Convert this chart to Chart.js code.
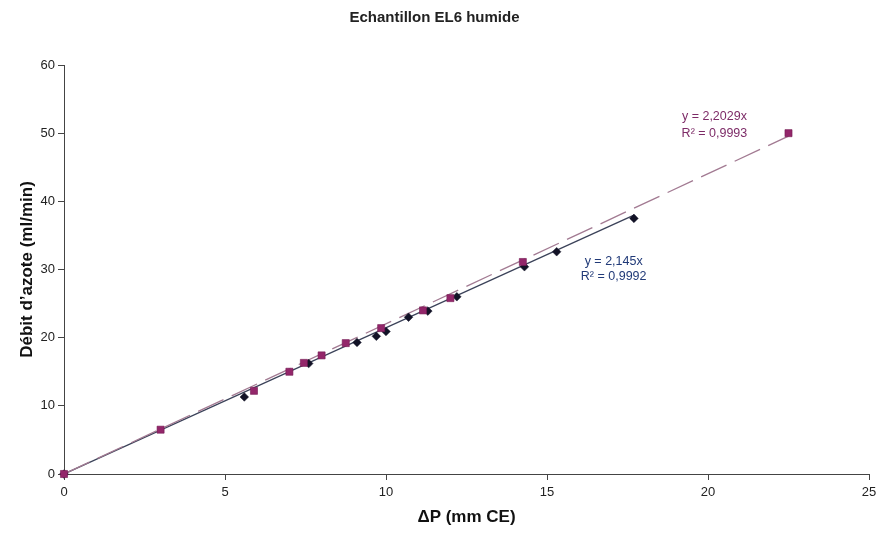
<!DOCTYPE html>
<html><head><meta charset="utf-8">
<script src="https://cdn.jsdelivr.net/npm/chart.js@4/dist/chart.umd.min.js"></script>
<style>html,body{margin:0;padding:0;background:#fff}#wrap{width:882px;height:541px}</style>
</head><body><div id="wrap"><canvas id="c" width="882" height="541"></canvas></div>
<script>
// ---- data ----
const titleText = 'Echantillon EL6 humide';
const xAxisTitle = 'ΔP (mm CE)';
const yAxisTitle = 'Débit d\u2019azote (ml/min)';
const xTicks = [0, 5, 10, 15, 20, 25];
const yTicks = [0, 10, 20, 30, 40, 50, 60];

// series A: black diamonds
const seriesAX = [0, 5.6, 7.6, 9.1, 9.7, 10.0, 10.7, 11.3, 12.2, 14.3, 15.3, 17.7];
const seriesAY = [0, 11.3, 16.2, 19.3, 20.2, 20.9, 23.0, 23.9, 26.0, 30.4, 32.6, 37.5];
// series B: magenta squares
const seriesBX = [0, 3.0, 5.9, 7.0, 7.45, 8.0, 8.75, 9.85, 11.15, 12.0, 14.25, 22.5];
const seriesBY = [0, 6.5, 12.2, 15.0, 16.3, 17.4, 19.2, 21.4, 24.0, 25.8, 31.1, 50.0];

// trendlines (through origin), as printed on the chart
const slopeA = 2.145, r2A = '0,9992';
const slopeB = 2.2029, r2B = '0,9993';

// ---- build ----
const ptsA = seriesAX.map((x, i) => ({x, y: seriesAY[i]}));
const ptsB = seriesBX.map((x, i) => ({x, y: seriesBY[i]}));
const maxA = Math.max(...seriesAX), maxB = Math.max(...seriesBX);
const trendA = [{x: 0, y: 0}, {x: maxA, y: slopeA * maxA}];
const trendB = [{x: 0, y: 0}, {x: maxB, y: slopeB * maxB}];
const fmt = v => String(v).replace('.', ',');

const FONT = '"Liberation Sans", Arial, sans-serif';

const annot = {
  id: 'annot',
  afterDatasetsDraw(chart) {
    const {ctx, scales: {x, y}} = chart;
    ctx.save();
    ctx.font = '12.5px ' + FONT;
    ctx.textAlign = 'center';
    ctx.textBaseline = 'middle';
    ctx.fillStyle = '#7d2b67';
    ctx.fillText('y = ' + fmt(slopeB) + 'x', x.getPixelForValue(20.2), y.getPixelForValue(52.5));
    ctx.fillText('R\u00B2 = ' + r2B, x.getPixelForValue(20.2), y.getPixelForValue(49.9));
    ctx.fillStyle = '#213a78';
    ctx.fillText('y = ' + fmt(slopeA) + 'x', x.getPixelForValue(17.07), y.getPixelForValue(31.1));
    ctx.fillText('R\u00B2 = ' + r2A, x.getPixelForValue(17.07), y.getPixelForValue(28.9));
    ctx.restore();
  }
};

new Chart(document.getElementById('c'), {
  type: 'scatter',
  data: {
    datasets: [
      {label: 'B', data: ptsB, pointStyle: 'rect', pointRadius: 5, pointHoverRadius: 5, clip: false,
       backgroundColor: '#93266a', borderColor: '#731a52', borderWidth: 0.6, order: 0},
      {label: 'A', data: ptsA, pointStyle: 'rectRot', pointRadius: 4.3, pointHoverRadius: 4.3, clip: false,
       backgroundColor: '#121226', borderColor: '#121226', borderWidth: 0.5, order: 1},
      {label: 'trendB', data: trendB, showLine: true, pointRadius: 0, borderColor: '#a27a92',
       borderWidth: 1.3, borderDash: [28, 9], order: 2},
      {label: 'trendA', data: trendA, showLine: true, pointRadius: 0, borderColor: '#3b4259',
       borderWidth: 1.3, order: 3}
    ]
  },
  options: {
    responsive: false,
    animation: false,
    layout: {padding: {left: 0, right: 13, top: 0, bottom: 0}},
    plugins: {
      legend: {display: false},
      tooltip: {enabled: false},
      title: {display: true, text: titleText, color: '#222',
              font: {family: FONT, size: 15, weight: 'bold'},
              padding: {top: 9, bottom: 38}}
    },
    scales: {
      x: {
        type: 'linear', min: 0, max: 25,
        afterBuildTicks: s => { s.ticks = xTicks.map(v => ({value: v})); },
        afterFit: s => { s.height = 67; },
        ticks: {color: '#222', font: {family: FONT, size: 13}, padding: 5, maxRotation: 0},
        grid: {display: true, drawOnChartArea: false, drawTicks: true, tickLength: 6, color: '#444'},
        border: {display: true, color: '#444', width: 1},
        title: {display: true, text: xAxisTitle, color: '#111',
                font: {family: FONT, size: 17, weight: 'bold'}, padding: {top: 4, bottom: 13}}
      },
      y: {
        type: 'linear', min: 0, max: 60,
        afterBuildTicks: s => { s.ticks = yTicks.map(v => ({value: v})); },
        afterFit: s => { s.width = 64; },
        ticks: {color: '#222', font: {family: FONT, size: 13}, padding: 3},
        grid: {display: true, drawOnChartArea: false, drawTicks: true, tickLength: 6, color: '#444'},
        border: {display: true, color: '#444', width: 1},
        title: {display: true, text: yAxisTitle, color: '#111',
                font: {family: FONT, size: 17, weight: 'bold'}, padding: {top: 17, bottom: 4}}
      }
    }
  },
  plugins: [annot]
});
</script>
</body></html>
